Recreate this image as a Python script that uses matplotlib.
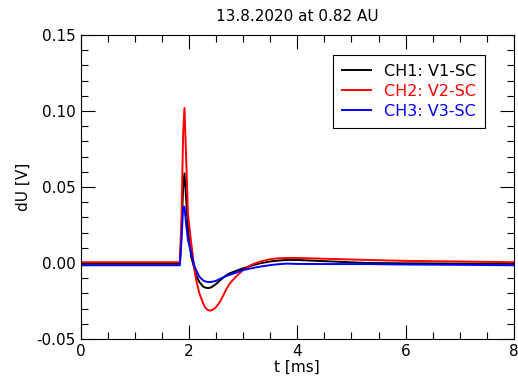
import matplotlib
matplotlib.use("Agg")
import matplotlib.pyplot as plt
from matplotlib.ticker import MultipleLocator

# Time axis [ms] (key points)
t_ms = [0.0, 1.0, 1.83, 1.86, 1.89, 1.915, 1.95, 1.98, 2.04, 2.10, 2.13, 2.19,
        2.26, 2.30, 2.35, 2.40, 2.45, 2.50, 2.57, 2.63, 2.69, 2.75, 2.88, 3.0,
        3.15, 3.31, 3.5, 3.62, 3.8, 4.0, 4.5, 5.3, 6.0, 7.0, 8.0]

ch1 = [-0.0005, -0.0005, -0.0005, 0.020, 0.050, 0.059, 0.040, 0.0217, 0.004,
       -0.004, -0.008, -0.0125, -0.0155, -0.0162, -0.0165, -0.0162, -0.0150,
       -0.0138, -0.0115, -0.0097, -0.008, -0.0068, -0.0050, -0.0035, -0.0018,
       -0.0002, 0.0010, 0.0015, 0.0020, 0.0020, 0.0012, 0.0000, -0.0002,
       -0.0004, -0.0005]

ch2 = [0.0005, 0.0005, 0.0005, 0.030, 0.085, 0.102, 0.065, 0.032, 0.013,
       -0.0046, -0.011, -0.020, -0.0265, -0.0295, -0.0310, -0.0313, -0.0305,
       -0.0290, -0.0255, -0.0215, -0.0172, -0.0135, -0.0085, -0.0046, -0.0012,
       0.0009, 0.0025, 0.0030, 0.0033, 0.0033, 0.0028, 0.0020, 0.0014, 0.0010,
       0.0005]

ch3 = [-0.0015, -0.0015, -0.0015, 0.015, 0.037, 0.037, 0.024, 0.015, 0.0065,
       -0.002, -0.0046, -0.0090, -0.0115, -0.0121, -0.0125, -0.0125, -0.0122,
       -0.0117, -0.0105, -0.0095, -0.0085, -0.0078, -0.0062, -0.0046, -0.0035,
       -0.0024, -0.0014, -0.0009, -0.0004, -0.0006, -0.0007, -0.0007, -0.0010,
       -0.0012, -0.0015]

labels = ["CH1: V1-SC", "CH2: V2-SC", "CH3: V3-SC"]
colors = ["black", "red", "blue"]

plt.rcParams['font.family'] = ['DejaVu Sans']
fig = plt.figure(figsize=(5.18, 3.76), dpi=100)
ax = fig.add_axes([0.156, 0.0984, 0.836, 0.8085])

for y, lab, c in zip([ch1, ch2, ch3], labels, colors):
    ax.plot(t_ms, y, color=c, lw=1.4, label=lab)

ax.set_xlim(0, 8)
ax.set_ylim(-0.05, 0.15)
ax.xaxis.set_major_locator(MultipleLocator(2))
ax.xaxis.set_minor_locator(MultipleLocator(0.5))
ax.yaxis.set_major_locator(MultipleLocator(0.05))
ax.yaxis.set_minor_locator(MultipleLocator(0.01))
ax.yaxis.set_major_formatter(plt.FuncFormatter(lambda v, p: f"{v:.2f}"))
ax.tick_params(which='both', direction='in', top=True, right=True, labelsize=11)
ax.tick_params(which='major', length=10, width=0.8)
ax.tick_params(which='minor', length=5, width=0.8)
for s in ax.spines.values():
    s.set_linewidth(0.8)

ax.set_xlabel("t [ms]", fontsize=11, labelpad=1)
ax.set_ylabel("dU [V]", fontsize=11)
ax.set_title("13.8.2020 at 0.82 AU", fontsize=11, pad=10)

leg = ax.legend(loc='upper right', bbox_to_anchor=(0.933, 0.934), fontsize=11.5,
                fancybox=False, framealpha=1, edgecolor='black',
                borderaxespad=0, handlelength=1.8, borderpad=0.55,
                labelspacing=0.32)
leg.get_frame().set_linewidth(0.8)
for txt, c in zip(leg.get_texts(), colors):
    txt.set_color(c)

fig.savefig("out.png", dpi=100)
